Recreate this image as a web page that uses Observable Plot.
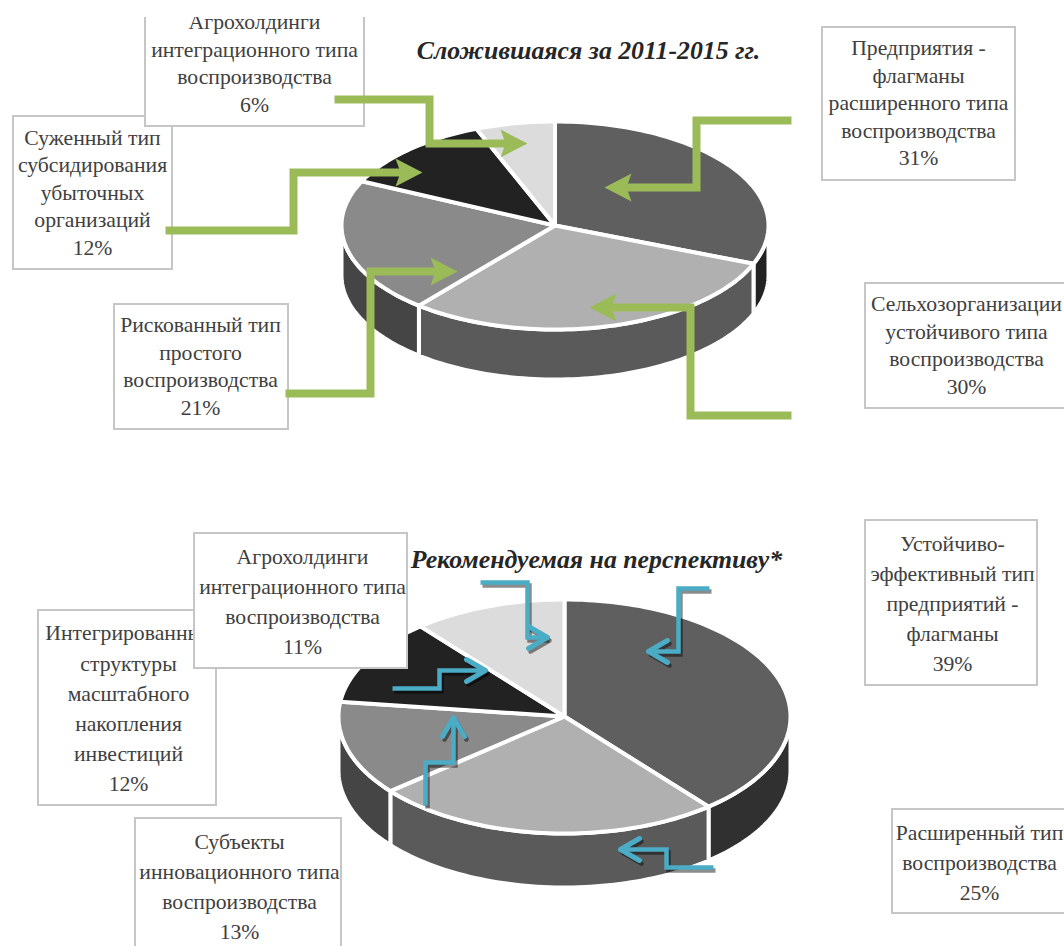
<!DOCTYPE html>
<html><head><meta charset="utf-8">
<style>html,body{margin:0;padding:0;background:#fff;overflow:hidden}svg{display:block}</style>
<script src="https://cdn.jsdelivr.net/npm/d3@7"></script>
<script src="https://cdn.jsdelivr.net/npm/@observablehq/plot@0.6"></script>
</head><body><div id="chart"></div>
<script>
// --- chart values ---
const currentLabels = [
  "Предприятия -\nфлагманы\nрасширенного типа\nвоспроизводства",
  "Сельхозорганизации\nустойчивого типа\nвоспроизводства",
  "Рискованный тип\nпростого\nвоспроизводства",
  "Суженный тип\nсубсидирования\nубыточных\nорганизаций",
  "Агрохолдинги\nинтеграционного типа\nвоспроизводства"
];
const currentShares = [31, 30, 21, 12, 6];
const futureLabels = [
  "Устойчиво-\nэффективный тип\nпредприятий -\nфлагманы",
  "Расширенный тип\nвоспроизводства",
  "Субъекты\nинновационного типа\nвоспроизводства",
  "Интегрированные\nструктуры\nмасштабного\nнакопления\nинвестиций",
  "Агрохолдинги\nинтеграционного типа\nвоспроизводства"
];
const futureShares = [39, 25, 13, 12, 11];
const currentTitle = "Сложившаяся за 2011-2015 гг.";
const futureTitle = "Рекомендуемая на перспективу*";

// --- styles and layout (kept apart from the values) ---
const topColors = ["#5f5f5f", "#b0b0b0", "#8a8a8a", "#222222", "#dcdcdc"];
const currentSides = ["#232323", "#5a5a5a", "#454545", "#222222", "#222222"];
const futureSides = ["#303030", "#5a5a5a", "#454545", "#222222", "#222222"];
const green = "#9bbb59", blue = "#4bacc6", border = "#c6c6c6", ink = "#404040";
const currentPie = {cx: 554.5, cy: 225, rx: 213.5, ry: 104, depth: 50};
const futurePie = {cx: 564, cy: 716, rx: 226, ry: 117, depth: 54};
const currentBoxes = [ // same order as the labels; a later box covers an earlier one
  {x1: 822, x2: 1015, y1: 27, y2: 180, tx: 918, ty: 101},
  {x1: 865, x2: 1072, y1: 283, y2: 408, tx: 966, ty: 343},
  {x1: 114, x2: 288, y1: 304, y2: 429, tx: 200, ty: 364},
  {x1: 13, x2: 172, y1: 116, y2: 269, tx: 92, ty: 190.5},
  {x1: 145, x2: 364, y1: 8, y2: 126, tx: 254, ty: 61}
];
const futureBoxes = [
  {x1: 865, x2: 1037, y1: 520, y2: 685, tx: 952, ty: 600.5},
  {x1: 892, x2: 1072, y1: 809, y2: 913, tx: 979, ty: 859.5},
  {x1: 135, x2: 341, y1: 818, y2: 960, tx: 239, ty: 884},
  {x1: 38, x2: 216, y1: 610, y2: 805, tx: 128, ty: 705.5},
  {x1: 194, x2: 407, y1: 533, y2: 668, tx: 302, ty: 598.5}
];
const greenRoutes = [
  [[791,120],[696,120],[696,187],[604,187]],
  [[791,415],[690,415],[690,307],[589,307]],
  [[285,393],[370,393],[370,271],[457,271]],
  [[165,230],[293,230],[293,172],[422,172]],
  [[334,99],[429,99],[429,143],[527,143]]
];
const blueRoutes = [
  [[709,588],[678,588],[678,651],[648,651]],
  [[713,867],[666,867],[666,849],[620,849]],
  [[425,805],[425,762],[453,762],[453,717]],
  [[392,688],[439,688],[439,670],[485,670]],
  [[480,582],[527,582],[527,637],[547,637]]
];

// --- geometry derived from the values ---
const rad = Math.PI / 180;
const ell = (p, t, dz = 0) => [p.cx + p.rx * Math.sin(t), p.cy - p.ry * Math.cos(t) + dz];
const arc = (p, a, b, dz = 0) => {
  const n = Math.max(2, Math.ceil((b - a) / (1.5 * rad)));
  return d3.range(n + 1).map(i => ell(p, a + (b - a) * i / n, dz));
};
const pieLayout = d3.pie().sort(null).value(d => d);
function wedges(shares, p, prefix) {
  return pieLayout(shares).flatMap((s, i) => {
    const pts = [[p.cx, p.cy], ...arc(p, s.startAngle, s.endAngle), [p.cx, p.cy]];
    return pts.map(([x, y]) => ({x, y, key: prefix + "t" + i, color: topColors[i]}));
  });
}
function sides(shares, p, prefix, colors) {
  return pieLayout(shares).flatMap((s, i) => {
    const a = Math.max(s.startAngle, Math.PI / 2), b = Math.min(s.endAngle, 1.5 * Math.PI);
    if (b <= a) return [];
    const front = arc(p, a, b), back = arc(p, a, b, p.depth).reverse();
    return [...front, ...back, front[0]].map(([x, y]) => ({x, y, key: prefix + "s" + i, color: colors[i]}));
  });
}
const routeRows = rs => rs.flatMap((r, i) => r.map(([x, y]) => ({x, y, key: i})));
function heads(rs, len, half, notch) {
  return rs.flatMap((r, i) => {
    const [a, b] = r.slice(-2);
    const L = Math.hypot(b[0] - a[0], b[1] - a[1]), u = [(b[0] - a[0]) / L, (b[1] - a[1]) / L], n = [-u[1], u[0]];
    const at = (along, across) => ({x: b[0] + u[0] * along + n[0] * across, y: b[1] + u[1] * along + n[1] * across, key: i});
    return notch
      ? [at(0,0), at(-len,-half), at(-len+notch,0), at(-len,half), at(0,0)]
      : [at(-len,-half), at(0,0), at(-len,half)];
  });
}
const boxMarks = (labels, shares, boxes, lh) => boxes.flatMap((b, i) => [
  Plot.rect([b], {x1: "x1", x2: "x2", y1: "y1", y2: "y2", fill: "#fff", stroke: border, strokeWidth: 2}),
  Plot.text([b], {x: "tx", y: "ty", text: () => `${labels[i]}\n${shares[i]}%`, fontSize: 21.7, lineHeight: lh,
    fontFamily: "Liberation Serif", fill: ink, textAnchor: "middle", lineAnchor: "middle"})
]);
const polygon = (rows, sw) => Plot.line(rows, {x: "x", y: "y", z: "key", fill: "color", stroke: "#fff", strokeWidth: sw, strokeLinejoin: "round", curve: "linear"});
const titleMark = (t, x, y, extra) => Plot.text([t], {x: () => x, y: () => y, text: d => d, fontSize: 25.8, fontWeight: "bold", fontStyle: "italic",
  fontFamily: "Liberation Serif", fill: "#262626", textAnchor: "middle", lineAnchor: "middle", ...extra});
const line = (rs, stroke, sw, opts = {}) => Plot.line(routeRows(rs), {x: "x", y: "y", z: "key", stroke, strokeWidth: sw, strokeLinejoin: "miter", strokeMiterlimit: 4, strokeLinecap: "butt", ...opts});
const shortened = rs => rs.map(r => { const c = r.map(p => [...p]); const [a, b] = c.slice(-2); b[0] -= Math.sign(b[0] - a[0]) * 18; return c; });

const chart = Plot.plot({
  width: 1064, height: 946, margin: 0,
  style: {background: "#fff"},
  x: {domain: [0, 1064], range: [0, 1064], axis: null},
  y: {domain: [0, 946], range: [0, 946], axis: null},
  marks: [
    // current structure
    polygon(sides(currentShares, currentPie, "c", currentSides), 4),
    polygon(wedges(currentShares, currentPie, "c"), 4),
    ...boxMarks(currentLabels, currentShares, currentBoxes, 1.27),
    Plot.rect([{}], {x1: () => 0, x2: () => 1064, y1: () => 0, y2: () => 17, fill: "#fff"}),
    titleMark(currentTitle, 588, 50),
    line(shortened(greenRoutes), green, 8),
    Plot.line(heads(greenRoutes, 27, 14, 5), {x: "x", y: "y", z: "key", fill: green, stroke: "none"}),

    // recommended structure
    polygon(sides(futureShares, futurePie, "f", futureSides), 4),
    polygon(wedges(futureShares, futurePie, "f"), 4),
    ...boxMarks(futureLabels, futureShares, futureBoxes, 1.385),
    titleMark(futureTitle, 596, 559, {letterSpacing: 0.4}),
    line(blueRoutes, "#000", 4.5, {dx: 2, dy: 3, strokeOpacity: 0.45}),
    Plot.line(heads(blueRoutes, 19, 11), {x: "x", y: "y", z: "key", stroke: "#000", strokeWidth: 4.5, dx: 2, dy: 3, strokeOpacity: 0.45, strokeLinecap: "round"}),
    line(blueRoutes, blue, 4.5),
    Plot.line(heads(blueRoutes, 19, 11), {x: "x", y: "y", z: "key", stroke: blue, strokeWidth: 5, strokeLinecap: "round"})
  ]
});
document.getElementById("chart").append(chart);
</script></body></html>
